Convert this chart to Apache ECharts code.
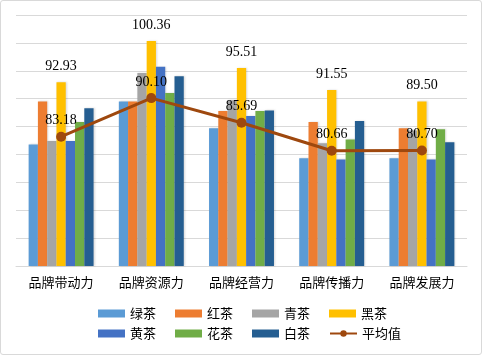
<!DOCTYPE html>
<html>
<head>
<meta charset="utf-8">
<script src="https://cdn.jsdelivr.net/npm/echarts@6/dist/echarts.min.js"></script>
<style>
html,body{margin:0;padding:0;background:#fff;}
#frame{position:absolute;left:0;top:0;width:480px;height:353px;border:1px solid #d9d9d9;border-radius:3px;}
#chart{position:absolute;left:0;top:0;width:482px;height:355px;}
</style>
</head>
<body>
<div id="frame"></div>
<div id="chart"></div>
<script>
const categories = ['品牌带动力', '品牌资源力', '品牌经营力', '品牌传播力', '品牌发展力'];
const seriesNames = ['绿茶', '红茶', '青茶', '黑茶', '黄茶', '花茶', '白茶'];
const lvcha   = [81.8, 89.5, 84.7, 79.3, 79.3];
const hongcha = [89.5, 89.5, 87.8, 85.8, 84.7];
const qingcha = [82.4, 94.6, 89.7, 82.0, 84.3];
const heicha  = [92.93, 100.36, 95.51, 91.55, 89.50];
const huangcha= [82.4, 95.7, 86.9, 79.1, 79.1];
const huacha  = [85.8, 91.0, 87.8, 82.7, 84.5];
const baicha  = [88.3, 94.0, 87.9, 86.0, 82.2];
const average = [83.18, 90.10, 85.69, 80.66, 80.70];
const averageName = '平均值';
const yTicks = {min: 60, max: 105, interval: 5};

const barData = [lvcha, hongcha, qingcha, heicha, huangcha, huacha, baicha];
const colors = ['#5B9BD5', '#ED7D31', '#A5A5A5', '#FFC000', '#4472C4', '#70AD47', '#255E91'];
const lineColor = '#9E480E';
const numFont = '"Liberation Serif", "Times New Roman", serif';
const cjkFont = '"Noto Sans CJK SC", sans-serif';

const series = barData.map((d, i) => ({
  name: seriesNames[i],
  type: 'bar',
  data: d,
  barGap: '0%',
  barCategoryGap: '28%',
  itemStyle: {color: colors[i], shadowColor: 'rgba(0,0,0,0.15)', shadowBlur: 2, shadowOffsetX: 1},
  label: i === 3 ? {
    show: true, position: 'top', distance: 9,
    formatter: p => p.value.toFixed(2),
    fontFamily: numFont, fontSize: 14, color: '#000'
  } : {show: false},
  z: 2
}));
series.push({
  name: averageName,
  type: 'line',
  data: average,
  symbol: 'circle',
  symbolSize: 10,
  lineStyle: {color: lineColor, width: 3},
  itemStyle: {color: lineColor},
  label: {
    show: true, position: 'top', distance: 4,
    formatter: p => p.value.toFixed(2),
    fontFamily: numFont, fontSize: 14, color: '#000'
  },
  z: 5
});

const legendText = {fontFamily: cjkFont, fontSize: 13, color: '#000'};
const chart = echarts.init(document.getElementById('chart'));
chart.setOption({
  animation: false,
  grid: {left: 16, right: 15, top: 15, bottom: 89},
  xAxis: {
    type: 'category',
    data: categories,
    axisLine: {lineStyle: {color: '#d9d9d9', width: 1}},
    axisTick: {show: false},
    axisLabel: {fontFamily: cjkFont, fontSize: 13, color: '#000', margin: 10}
  },
  yAxis: {
    type: 'value',
    min: yTicks.min, max: yTicks.max, interval: yTicks.interval,
    axisLine: {show: false},
    axisTick: {show: false},
    axisLabel: {show: false},
    splitLine: {lineStyle: {color: '#d9d9d9', width: 1}}
  },
  legend: [
    {
      left: 93, top: 302, itemWidth: 27, itemHeight: 8, itemGap: 19,
      textStyle: legendText,
      data: seriesNames.slice(0, 4).map(n => ({name: n, icon: 'rect'}))
    },
    {
      left: 93, top: 322, itemWidth: 27, itemHeight: 8, itemGap: 19,
      textStyle: legendText,
      data: seriesNames.slice(4).map(n => ({name: n, icon: 'rect'})).concat([{name: averageName}])
    }
  ],
  series: series
});
</script>
</body>
</html>
